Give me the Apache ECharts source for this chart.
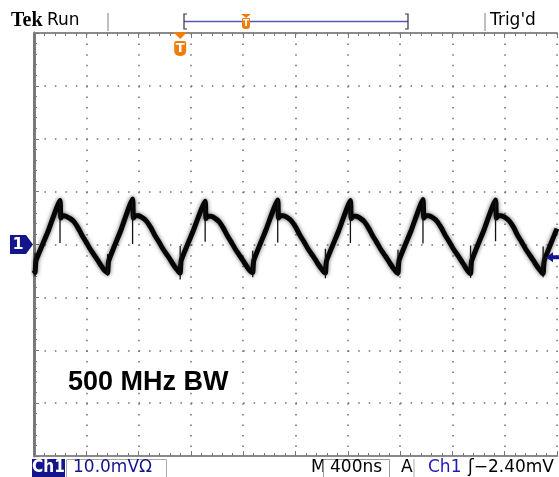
<!DOCTYPE html>
<html>
<head>
<meta charset="utf-8">
<script src="https://cdn.jsdelivr.net/npm/echarts@6/dist/echarts.min.js"></script>
<style>
html, body { margin: 0; padding: 0; background: #fff; }
#scope { width: 559px; height: 477px; }
</style>
</head>
<body>
<div id="scope"></div>
<script>
// Ch1 trace, time in ns (400 ns/div), voltage in mV (10 mV/div)
const traceTime = [
  0,
  8, 16, 108, 199, 205, 221, 248, 278, 306, 338, 368, 398, 428, 458, 488, 513, 533, 553,
  563, 571, 663, 754, 760, 776, 803, 833, 861, 893, 923, 953, 983, 1013, 1043, 1068, 1088, 1108,
  1118, 1126, 1218, 1309, 1315, 1331, 1358, 1388, 1416, 1448, 1478, 1508, 1538, 1568, 1598, 1623, 1643, 1663,
  1673, 1681, 1773, 1864, 1870, 1886, 1913, 1943, 1971, 2003, 2033, 2063, 2093, 2123, 2153, 2178, 2198, 2218,
  2229, 2237, 2329, 2420, 2426, 2442, 2469, 2499, 2527, 2559, 2589, 2619, 2649, 2679, 2709, 2734, 2754, 2774,
  2784, 2792, 2884, 2975, 2981, 2997, 3024, 3054, 3082, 3114, 3144, 3174, 3204, 3234, 3264, 3289, 3309, 3329,
  3339, 3347, 3439, 3530, 3536, 3552, 3579, 3609, 3637, 3669, 3699, 3729, 3759, 3789, 3819, 3844, 3864, 3884,
  3894, 3902, 4000
];
const traceMv = [
  -4.9,
  -5.3, -3.0, 2.5, 8.3, 5.0, 5.5, 5.3, 4.9, 4.3, 3.1, 1.7, 0.5, -0.8, -1.9, -3.0, -4.0, -4.7, -5.2,
  -5.4, -3.1, 2.6, 8.6, 5.0, 5.5, 5.4, 5.0, 4.4, 3.2, 1.8, 0.6, -0.7, -1.8, -2.9, -3.9, -4.6, -5.2,
  -5.4, -3.0, 2.6, 8.2, 4.9, 5.4, 5.3, 4.9, 4.3, 3.1, 1.7, 0.5, -0.8, -1.9, -3.0, -4.0, -4.7, -5.2,
  -5.3, -3.0, 2.7, 8.4, 5.0, 5.5, 5.4, 5.0, 4.4, 3.2, 1.8, 0.6, -0.7, -1.8, -2.9, -3.9, -4.6, -5.2,
  -5.4, -3.1, 2.5, 8.3, 4.9, 5.4, 5.3, 4.9, 4.3, 3.1, 1.7, 0.5, -0.8, -1.9, -3.0, -4.0, -4.7, -5.3,
  -5.4, -3.0, 2.6, 8.5, 5.0, 5.5, 5.4, 5.0, 4.4, 3.2, 1.8, 0.6, -0.7, -1.8, -2.9, -3.9, -4.7, -5.3,
  -5.5, -3.1, 2.6, 8.4, 5.0, 5.5, 5.4, 5.0, 4.4, 3.2, 1.7, 0.5, -0.8, -1.9, -3.0, -4.0, -4.7, -5.3,
  -5.5, -3.1, 3.0
];

// thin glitch spikes at each edge
const spikeTime = [8, 199, 563, 754, 1118, 1309, 1673, 1864, 2229, 2420, 2784, 2975, 3339, 3530, 3894];
const spikeHigh = [-1.6, 8.3, -1.8, 8.6, -0.3, 8.2, -1.2, 8.4, -0.8, 8.3, -1.0, 8.5, -0.2, 8.4, -0.4];
const spikeLow = [-6.0, 0.3, -5.9, 0.1, -6.6, 0.5, -6.2, 0.4, -6.4, 0.3, -6.0, 0.2, -6.3, 0.6, -6.2];

const triggerTime = 1118;
const triggerLevel = -2.4;

const timeRange = [0, 4000];
const voltRange = [-40, 40];

const navy = '#14148c';
const orange = '#f07d0a';
const dotGray = '#6e6e6e';

let chart = echarts.init(document.getElementById('scope'));

const spikeData = [];
spikeTime.forEach((t, i) => {
  spikeData.push([t, spikeHigh[i]], [t, spikeLow[i]], [t, '-']);
});

const frameAxis = {
  type: 'value',
  min: timeRange[0],
  max: timeRange[1],
  interval: 400,
  axisLine: { show: true, onZero: false, lineStyle: { color: '#8a8a8a', width: 2 } },
  axisTick: { show: true, inside: true, length: 5, lineStyle: { color: '#777' } },
  minorTick: { show: true, splitNumber: 5, length: 3, lineStyle: { color: '#777' } },
  axisLabel: { show: false }
};

let option = {
  animation: false,
  backgroundColor: '#fff',
  grid: { left: 34, top: 33, width: 523, height: 423 },
  xAxis: [
    Object.assign({}, frameAxis, {
      position: 'top',
      splitLine: { show: true, lineStyle: { color: dotGray, width: 1.5, type: [1.5, 9.08] } }
    }),
    Object.assign({}, frameAxis, { position: 'bottom', splitLine: { show: false } })
  ],
  yAxis: {
    type: 'value',
    min: voltRange[0],
    max: voltRange[1],
    interval: 10,
    axisLine: { show: true, onZero: false, lineStyle: { color: '#7a7a7a', width: 3 } },
    axisTick: { show: true, inside: true, length: 5, lineStyle: { color: '#777' } },
    minorTick: { show: true, splitNumber: 5, length: 3, lineStyle: { color: '#777' } },
    axisLabel: { show: false },
    splitLine: { show: true, lineStyle: { color: dotGray, width: 1.5, type: [1.5, 8.96] } }
  },
  series: [
    {
      type: 'line',
      name: 'Ch1',
      data: traceTime.map((t, i) => [t, traceMv[i]]),
      showSymbol: false,
      smooth: 0.15,
      z: 3,
      lineStyle: { color: '#050505', width: 5, shadowBlur: 4, shadowColor: 'rgba(0,0,0,0.6)' }
    },
    {
      type: 'line',
      name: 'glitch',
      data: spikeData,
      showSymbol: false,
      connectNulls: false,
      z: 3,
      lineStyle: { color: '#111', width: 1.3 }
    }
  ]
};
chart.setOption(option);

// markers placed from the axes
const trigPt = chart.convertToPixel({ xAxisIndex: 0, yAxisIndex: 0 }, [triggerTime, triggerLevel]);
const zeroPt = chart.convertToPixel({ xAxisIndex: 0, yAxisIndex: 0 }, [0, 0]);
const tx = trigPt[0], ty = trigPt[1], zy = zeroPt[1];

const txt = (text, x, y, style, z) => ({
  type: 'text', x: x, y: y, z: z || 10,
  style: Object.assign({ text: text, fill: '#000', font: '17px "DejaVu Sans"', verticalAlign: 'middle' }, style)
});

chart.setOption({
  graphic: [
    // top status bar
    txt('Tek', 11, 21, { font: 'bold 20px "Liberation Serif"' }),
    txt('Run', 47, 21),
    { type: 'line', z: 10, shape: { x1: 108, y1: 13, x2: 108, y2: 31 }, style: { stroke: '#aaa', lineWidth: 1.5 } },
    { type: 'line', z: 10, shape: { x1: 184, y1: 21.5, x2: 408, y2: 21.5 }, style: { stroke: '#5858b0', lineWidth: 1.5 } },
    { type: 'polyline', z: 10, shape: { points: [[187, 14], [184, 14], [184, 29], [187, 29]] }, style: { stroke: '#333', lineWidth: 1.2, fill: null } },
    { type: 'polyline', z: 10, shape: { points: [[405, 14], [408, 14], [408, 29], [405, 29]] }, style: { stroke: '#333', lineWidth: 1.2, fill: null } },
    { type: 'polygon', z: 11, shape: { points: [[241, 14], [251, 14], [246, 18]] }, style: { fill: orange } },
    { type: 'rect', z: 11, shape: { x: 242, y: 18, width: 8, height: 11, r: [1, 1, 3, 3] }, style: { fill: orange } },
    txt('T', 246, 23.5, { font: 'bold 9px "DejaVu Sans"', fill: '#fff', align: 'center' }, 14),
    { type: 'line', z: 10, shape: { x1: 485, y1: 13, x2: 485, y2: 31 }, style: { stroke: '#aaa', lineWidth: 1.5 } },
    txt("Trig'd", 490, 21),

    // trigger position marker
    { type: 'polygon', z: 12, shape: { points: [[tx - 7, 32], [tx + 7, 32], [tx, 39]] }, style: { fill: orange } },
    { type: 'rect', z: 12, shape: { x: tx - 6, y: 41, width: 12, height: 15, r: [2, 2, 5, 5] }, style: { fill: orange } },
    txt('T', tx, 48.5, { font: 'bold 13px "DejaVu Sans"', fill: '#fff', align: 'center' }, 14),

    // channel ground marker
    { type: 'polygon', z: 10, shape: { points: [[10, zy - 9.5], [26, zy - 9.5], [33, zy], [26, zy + 9.5], [10, zy + 9.5]] }, style: { fill: navy } },
    txt('1', 18, zy, { font: 'bold 16px "DejaVu Sans"', fill: '#fff', align: 'center' }, 14),

    // trigger level arrow
    { type: 'polygon', z: 10, shape: { points: [[546, ty], [553, ty - 5], [553, ty - 2], [559, ty - 2], [559, ty + 2], [553, ty + 2], [553, ty + 5]] }, style: { fill: navy } },

    // annotation
    txt('500 MHz BW', 68, 383, { font: 'bold 27px "Liberation Sans"' }),

    // bottom status bar
    { type: 'rect', z: 10, shape: { x: 32, y: 459, width: 33, height: 18 }, style: { fill: navy } },
    txt('Ch1', 48.5, 468, { font: 'bold 17px "DejaVu Sans Condensed", "DejaVu Sans"', fill: '#fff', align: 'center' }, 14),
    { type: 'rect', z: 10, shape: { x: 66.5, y: 459.5, width: 100, height: 18 }, style: { fill: null, stroke: '#aaa', lineWidth: 1 } },
    txt('10.0mVΩ', 73, 468, { fill: navy }),
    txt('M', 311, 468),
    { type: 'rect', z: 10, shape: { x: 323.5, y: 459.5, width: 66, height: 18 }, style: { fill: null, stroke: '#999', lineWidth: 1 } },
    txt('400ns', 330, 468),
    txt('A', 401, 468),
    { type: 'line', z: 10, shape: { x1: 414, y1: 459, x2: 414, y2: 477 }, style: { stroke: '#aaa', lineWidth: 1 } },
    txt('Ch1', 428, 468, { fill: '#1c1cb4' }),
    txt('ʃ−2.40mV', 468, 468)
  ]
});
</script>
</body>
</html>
